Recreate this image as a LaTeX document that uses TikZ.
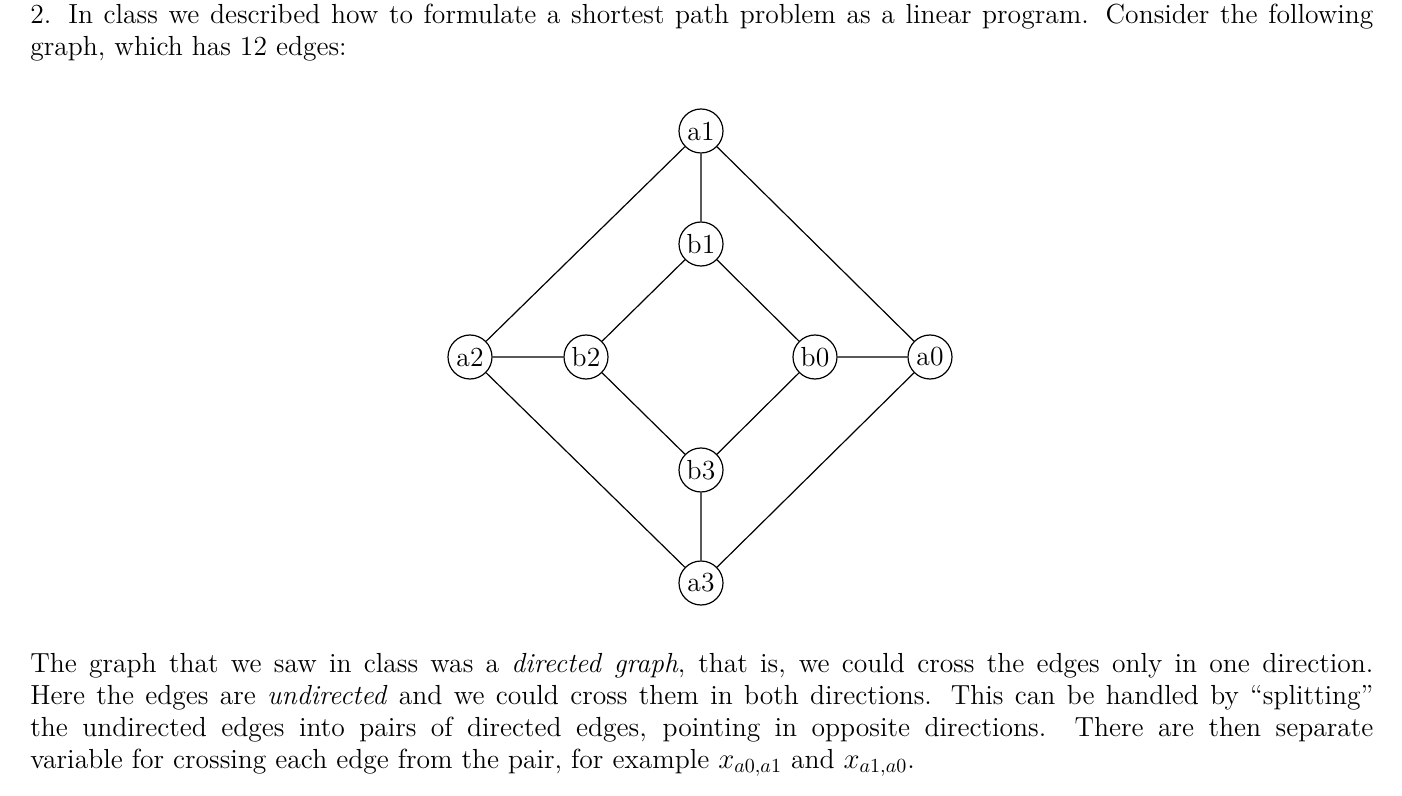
\documentclass[tikz,border=0pt]{standalone}
\begin{document}
\begin{tikzpicture}[x=0.5pt,y=-0.5pt,
  vtx/.style={circle,draw,line width=0.6pt,minimum size=22pt,inner sep=0pt,font=\fontsize{13.8}{15}\selectfont},
  edge/.style={line width=0.6pt},
  para/.style={anchor=north west,text width=671.5pt,inner sep=0pt,align=justify,font=\fontsize{13.8}{16}\selectfont}]
\useasboundingbox (0,0) rectangle (1402,796);
\node[para] (p1) at (30,4) {2. In class we described how to formulate a shortest path problem as a linear program. Consider the following\linebreak graph, which has 12 edges:};
\node[vtx] (a1) at (701,131) {a1};
\node[vtx] (b1) at (701,244) {b1};
\node[vtx] (a2) at (470,357) {a2};
\node[vtx] (b2) at (586,357) {b2};
\node[vtx] (b0) at (815,357) {b0};
\node[vtx] (a0) at (930,357) {a0};
\node[vtx] (b3) at (701,470) {b3};
\node[vtx] (a3) at (701,583) {a3};
\draw[edge] (a1)--(b1) (a1)--(a2) (a1)--(a0) (b1)--(b2) (b1)--(b0)
 (a2)--(b2) (b0)--(a0) (a2)--(a3) (a0)--(a3) (b2)--(b3) (b0)--(b3) (b3)--(a3);
\node[para] (p2) at (30,653) {The graph that we saw in class was a \emph{directed graph}, that is, we could cross the edges only in one direction.\linebreak Here the edges are \emph{undirected} and we could cross them in both directions. This can be handled by ``splitting''\linebreak the undirected edges into pairs of directed edges, pointing in opposite directions. There are then separate\linebreak variable for crossing each edge from the pair, for example $x_{a0,a1}$ and $x_{a1,a0}$.};
\end{tikzpicture}
\end{document}
